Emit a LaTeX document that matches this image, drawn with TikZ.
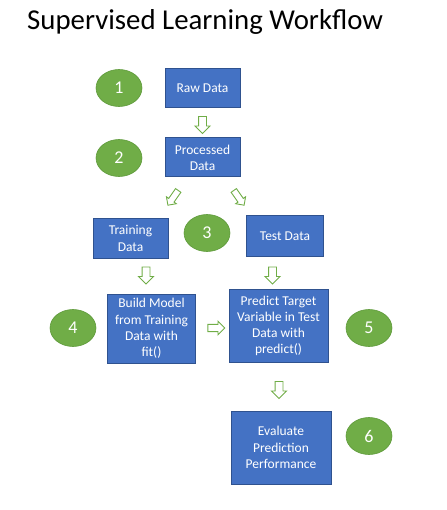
\documentclass[tikz,border=0pt]{standalone}
\usepackage{fontspec}
\setmainfont{Carlito}
\usetikzlibrary{shapes.arrows,shapes.geometric}
\definecolor{boxblue}{HTML}{4472C4}
\definecolor{boxedge}{HTML}{2F528F}
\definecolor{stepgreen}{HTML}{70AD47}
\definecolor{stepedge}{HTML}{5E9A3A}

\tikzset{
  databox/.style={draw=boxedge,fill=boxblue,line width=1pt,text=white,align=center,inner sep=1pt,font=\fontsize{13.5}{16.2}\selectfont},
  stepmark/.style={ellipse,draw=stepedge,fill=stepgreen,line width=.6pt,minimum width=46pt,minimum height=37pt,inner sep=0pt,text=white,font=\fontsize{18}{18}\selectfont},
  blockarrow/.style={single arrow,draw=stepgreen,fill=white,line width=.9pt,minimum height=17pt,inner xsep=0pt,inner ysep=3.5pt,single arrow head extend=3.5pt}
}

\begin{document}
\begin{tikzpicture}[x=1pt,y=-1pt]
            \useasboundingbox (0,0) rectangle (446,510);
            \node[anchor=base west,inner sep=0pt,font=\fontsize{28.8}{28.8}\selectfont] (title) at (27,30) {Supervised Learning Workflow};

            \node[databox,minimum width=75pt,minimum height=39pt] (raw) at (202.5,88.5) {Raw Data};
            \node[databox,minimum width=75pt,minimum height=39pt] (proc) at (202.5,157.5) {Processed\\Data};
            \node[databox,minimum width=75pt,minimum height=39pt] (train) at (130.5,238.5) {Training\\Data};
            \node[databox,minimum width=77pt,minimum height=40pt] (test) at (285,236) {Test Data};
            \node[databox,minimum width=88pt,minimum height=69pt] (build) at (151.5,328.5) {Build Model\\from Training\\Data with\\fit()};
            \node[databox,minimum width=99pt,minimum height=73pt] (predict) at (278.5,326) {Predict Target\\Variable in Test\\Data with\\predict()};
            \node[databox,minimum width=100pt,minimum height=73pt] (evaluate) at (281,447.5) {Evaluate\\Prediction\\Performance};

            \foreach \x/\y/\i in {119/88/1,119/158/2,207/233/3,73/328/4,369/328/5,369/436/6} {
            \node[stepmark] (s\i) at (\x,\y) {\i};}

            \node[blockarrow,rotate=-90] (rawproc) at (202.5,123) {};
            \node[blockarrow,rotate=-125,minimum height=18pt,inner ysep=2.8pt,single arrow head extend=2.8pt] (proctrain) at (174,196.5) {};
            \node[blockarrow,rotate=-55,minimum height=18pt,inner ysep=2.8pt,single arrow head extend=2.8pt] (proctest) at (238,196.5) {};
            \node[blockarrow,rotate=-90] (trainbuild) at (146,273.5) {};
            \node[blockarrow,rotate=-90] (testpredict) at (272.5,273.5) {};
            \node[blockarrow,inner ysep=3.2pt,single arrow head extend=3.2pt] (buildpredict) at (214.5,328) {};
            \node[blockarrow,rotate=-90] (predicteval) at (279,388) {};
        \end{tikzpicture}
\end{document}
